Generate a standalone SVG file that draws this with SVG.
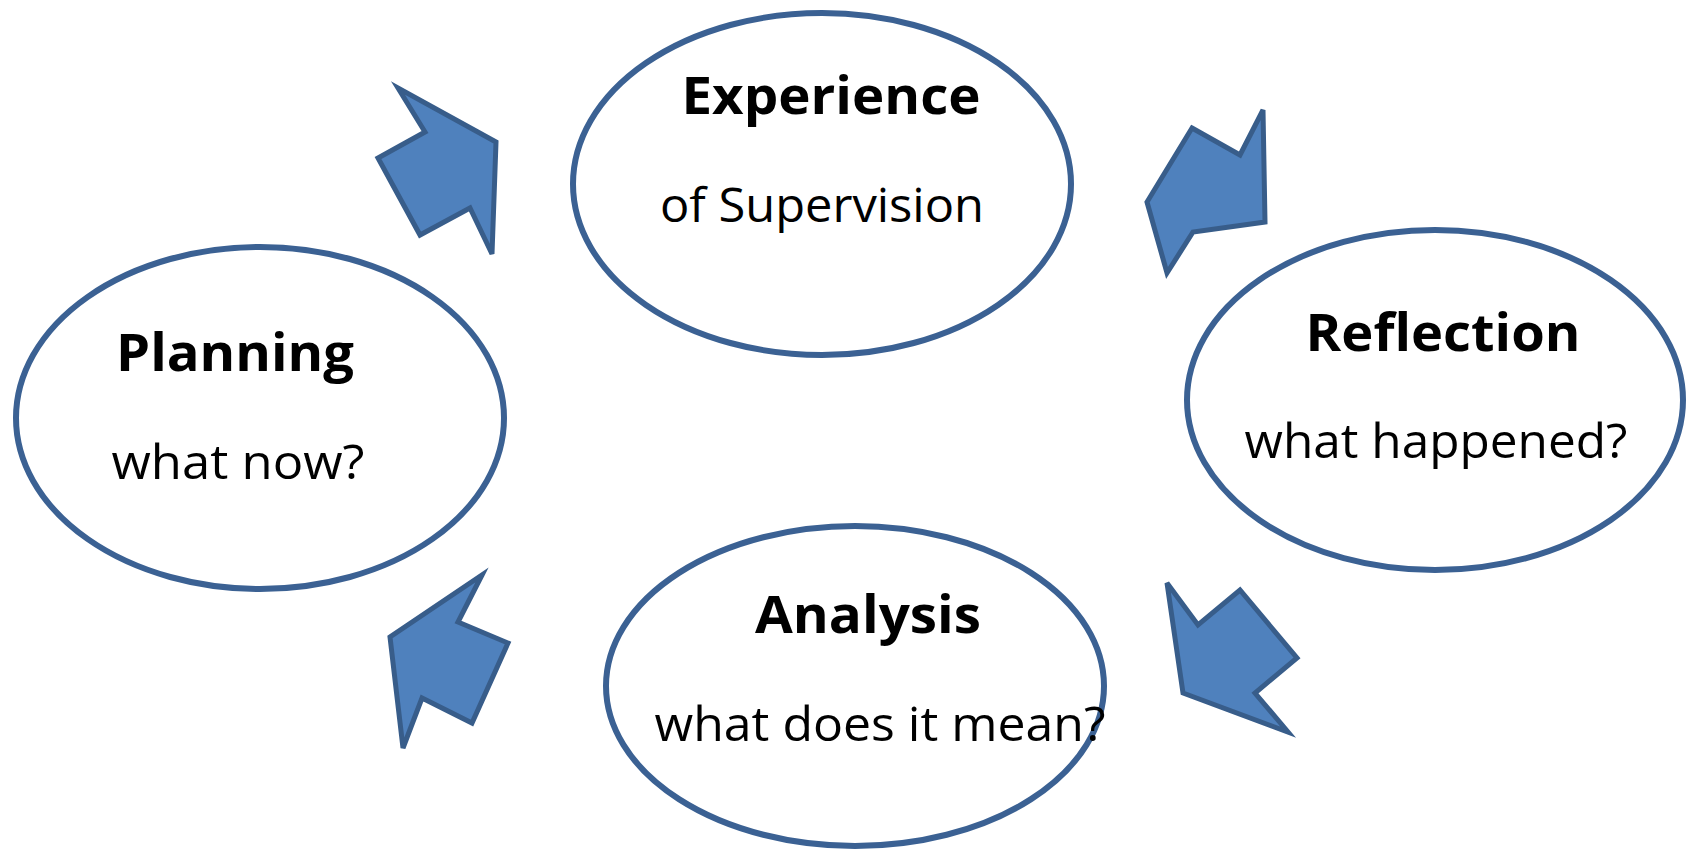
<svg xmlns="http://www.w3.org/2000/svg" width="1690" height="851" viewBox="0 0 1690 851">
<style>
.node ellipse{fill:#fff;stroke:#3B6193;stroke-width:6}
.arrow{fill:#4F81BD;stroke:#385D8A;stroke-width:5;stroke-linejoin:miter}
.t{font-family:"Open Sans","Liberation Sans",sans-serif;fill:#000;text-anchor:middle}
.b{font-weight:bold;font-size:52px}
.r{font-size:47px}
</style>
<rect width="1690" height="851" fill="#fff"/>
<g id="connectors">
<polygon class="arrow" points="398,88 425,132 378,158 420,235 470,208 492,254 496,142"/>
<polygon class="arrow" points="1192,128 1240,155 1263,110 1265,222 1193,232 1167,273 1147,202"/>
<polygon class="arrow" points="1167,583 1198,625 1240,590 1297,658 1255,693 1288,732 1183,693"/>
<polygon class="arrow" points="482,575 458,622 508,643 472,723 422,698 403,748 390,637"/>
</g>
<g id="experience" class="node">
<ellipse cx="822" cy="184" rx="249" ry="171"/>
<text class="t b" x="831" y="114" textLength="299" lengthAdjust="spacingAndGlyphs">Experience</text>
<text class="t r" x="822" y="222" textLength="324" lengthAdjust="spacingAndGlyphs">of Supervision</text>
</g>
<g id="reflection" class="node">
<ellipse cx="1435" cy="400" rx="248" ry="170"/>
<text class="t b" x="1443" y="351" textLength="275" lengthAdjust="spacingAndGlyphs">Reflection</text>
<text class="t r" x="1436" y="458" textLength="383" lengthAdjust="spacingAndGlyphs">what happened?</text>
</g>
<g id="planning" class="node">
<ellipse cx="260" cy="418" rx="244" ry="171"/>
<text class="t b" x="235" y="371" textLength="238" lengthAdjust="spacingAndGlyphs">Planning</text>
<text class="t r" x="238" y="479" textLength="253" lengthAdjust="spacingAndGlyphs">what now?</text>
</g>
<g id="analysis" class="node">
<ellipse cx="855" cy="686" rx="249" ry="160"/>
<text class="t b" x="868" y="633" textLength="226" lengthAdjust="spacingAndGlyphs">Analysis</text>
<text class="t r" x="880" y="741" textLength="451" lengthAdjust="spacingAndGlyphs">what does it mean?</text>
</g>
</svg>
